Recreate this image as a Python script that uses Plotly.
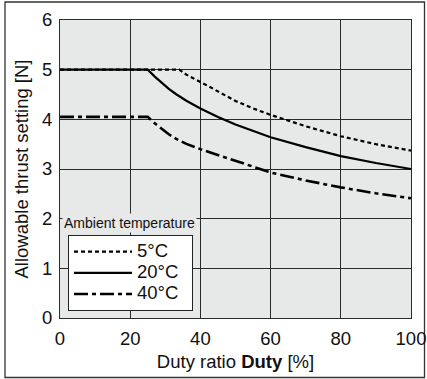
import plotly.graph_objects as go

# Data
duty_5c = [0, 34, 36, 38, 40, 43, 46, 50, 55, 60, 70, 80, 90, 100]
thrust_5c = [5.0, 5.0, 4.90, 4.82, 4.75, 4.64, 4.52, 4.37, 4.22, 4.09, 3.86, 3.66, 3.50, 3.37]
duty_20c = [0, 25, 27, 29, 31, 33, 36, 40, 45, 50, 55, 60, 70, 80, 90, 100]
thrust_20c = [5.0, 5.0, 4.86, 4.73, 4.615, 4.51, 4.375, 4.22, 4.045, 3.895, 3.76, 3.64, 3.44, 3.26, 3.12, 3.0]
duty_40c = [0, 25, 27, 29, 31, 33, 36, 40, 45, 50, 55, 60, 70, 80, 90, 100]
thrust_40c = [4.05, 4.05, 3.92, 3.805, 3.70, 3.61, 3.505, 3.40, 3.28, 3.16, 3.04, 2.93, 2.77, 2.63, 2.51, 2.41]
x_ticks = [0, 20, 40, 60, 80, 100]
y_ticks = [0, 1, 2, 3, 4, 5, 6]

FONT = "Liberation Sans, Arial, Helvetica, sans-serif"
PLOT_BG = "#e7e8e8"
GRID = "#2a2a2a"
FS = 18.5

def lg(name):
    return f"<span style='font-size:{FS}px'>{name}</span>&nbsp;&nbsp;"

fig = go.Figure()
fig.add_trace(go.Scatter(x=duty_5c, y=thrust_5c, mode="lines", name=lg("5°C"),
                         line=dict(color="black", width=2.2, dash="4px,3px")))
fig.add_trace(go.Scatter(x=duty_20c, y=thrust_20c, mode="lines", name=lg("20°C"),
                         line=dict(color="black", width=2.2)))
fig.add_trace(go.Scatter(x=duty_40c, y=thrust_40c, mode="lines", name=lg("40°C"),
                         line=dict(color="black", width=2.6, dash="14px,4px,4px,4px")))

W, H = 427, 379
L, R, T, B = 60, 16, 20, 61
pw, ph = W - L - R, H - T - B

def px(x):
    return (x - L) / pw

def py(y):
    return (H - B - y) / ph

fig.update_layout(
    width=W, height=H,
    margin=dict(l=L, r=R, t=T, b=B, autoexpand=False),
    paper_bgcolor="white",
    plot_bgcolor=PLOT_BG,
    font=dict(family=FONT, size=FS, color="#111"),
    showlegend=True,
    legend=dict(
        x=px(68), y=py(235), xanchor="left", yanchor="top",
        bgcolor="white", bordercolor="#222", borderwidth=1,
        font=dict(size=14, family=FONT, color="#111"),
        tracegroupgap=0, itemwidth=58,
    ),
    xaxis=dict(
        range=[0, 100], tickvals=x_ticks, showgrid=True, gridcolor=GRID, gridwidth=1.2,
        zeroline=False, showline=True, linecolor=GRID, linewidth=1.2, mirror=True,
        ticks="", tickfont=dict(size=FS), automargin=False, ticklabelstandoff=4,
        title=dict(text="Duty ratio <b>Duty</b> [%]", font=dict(size=FS), standoff=6),
    ),
    yaxis=dict(
        range=[0, 6], tickvals=y_ticks, showgrid=True, gridcolor=GRID, gridwidth=1.2,
        zeroline=False, showline=True, linecolor=GRID, linewidth=1.2, mirror=True,
        ticks="", tickfont=dict(size=FS), automargin=False, ticklabelstandoff=3,
        title=dict(text="Allowable thrust setting [N]", font=dict(size=FS), standoff=8),
    ),
    shapes=[
        dict(type="rect", xref="paper", yref="paper",
             x0=px(5), x1=px(424.5), y0=py(377.5), y1=py(2),
             line=dict(color="#333", width=1.3), fillcolor="rgba(0,0,0,0)", layer="below"),
    ],
    annotations=[
        dict(text="Ambient temperature", xref="paper", yref="paper",
             x=px(129), y=py(223), xanchor="center", yanchor="middle", showarrow=False,
             font=dict(family=FONT, size=14, color="#111"),
             bgcolor=PLOT_BG, borderpad=1),
    ],
)

fig.write_html("out.html",
               config={"displayModeBar": False},
               post_script="document.body.style.margin='0';document.body.style.overflow='hidden';")
